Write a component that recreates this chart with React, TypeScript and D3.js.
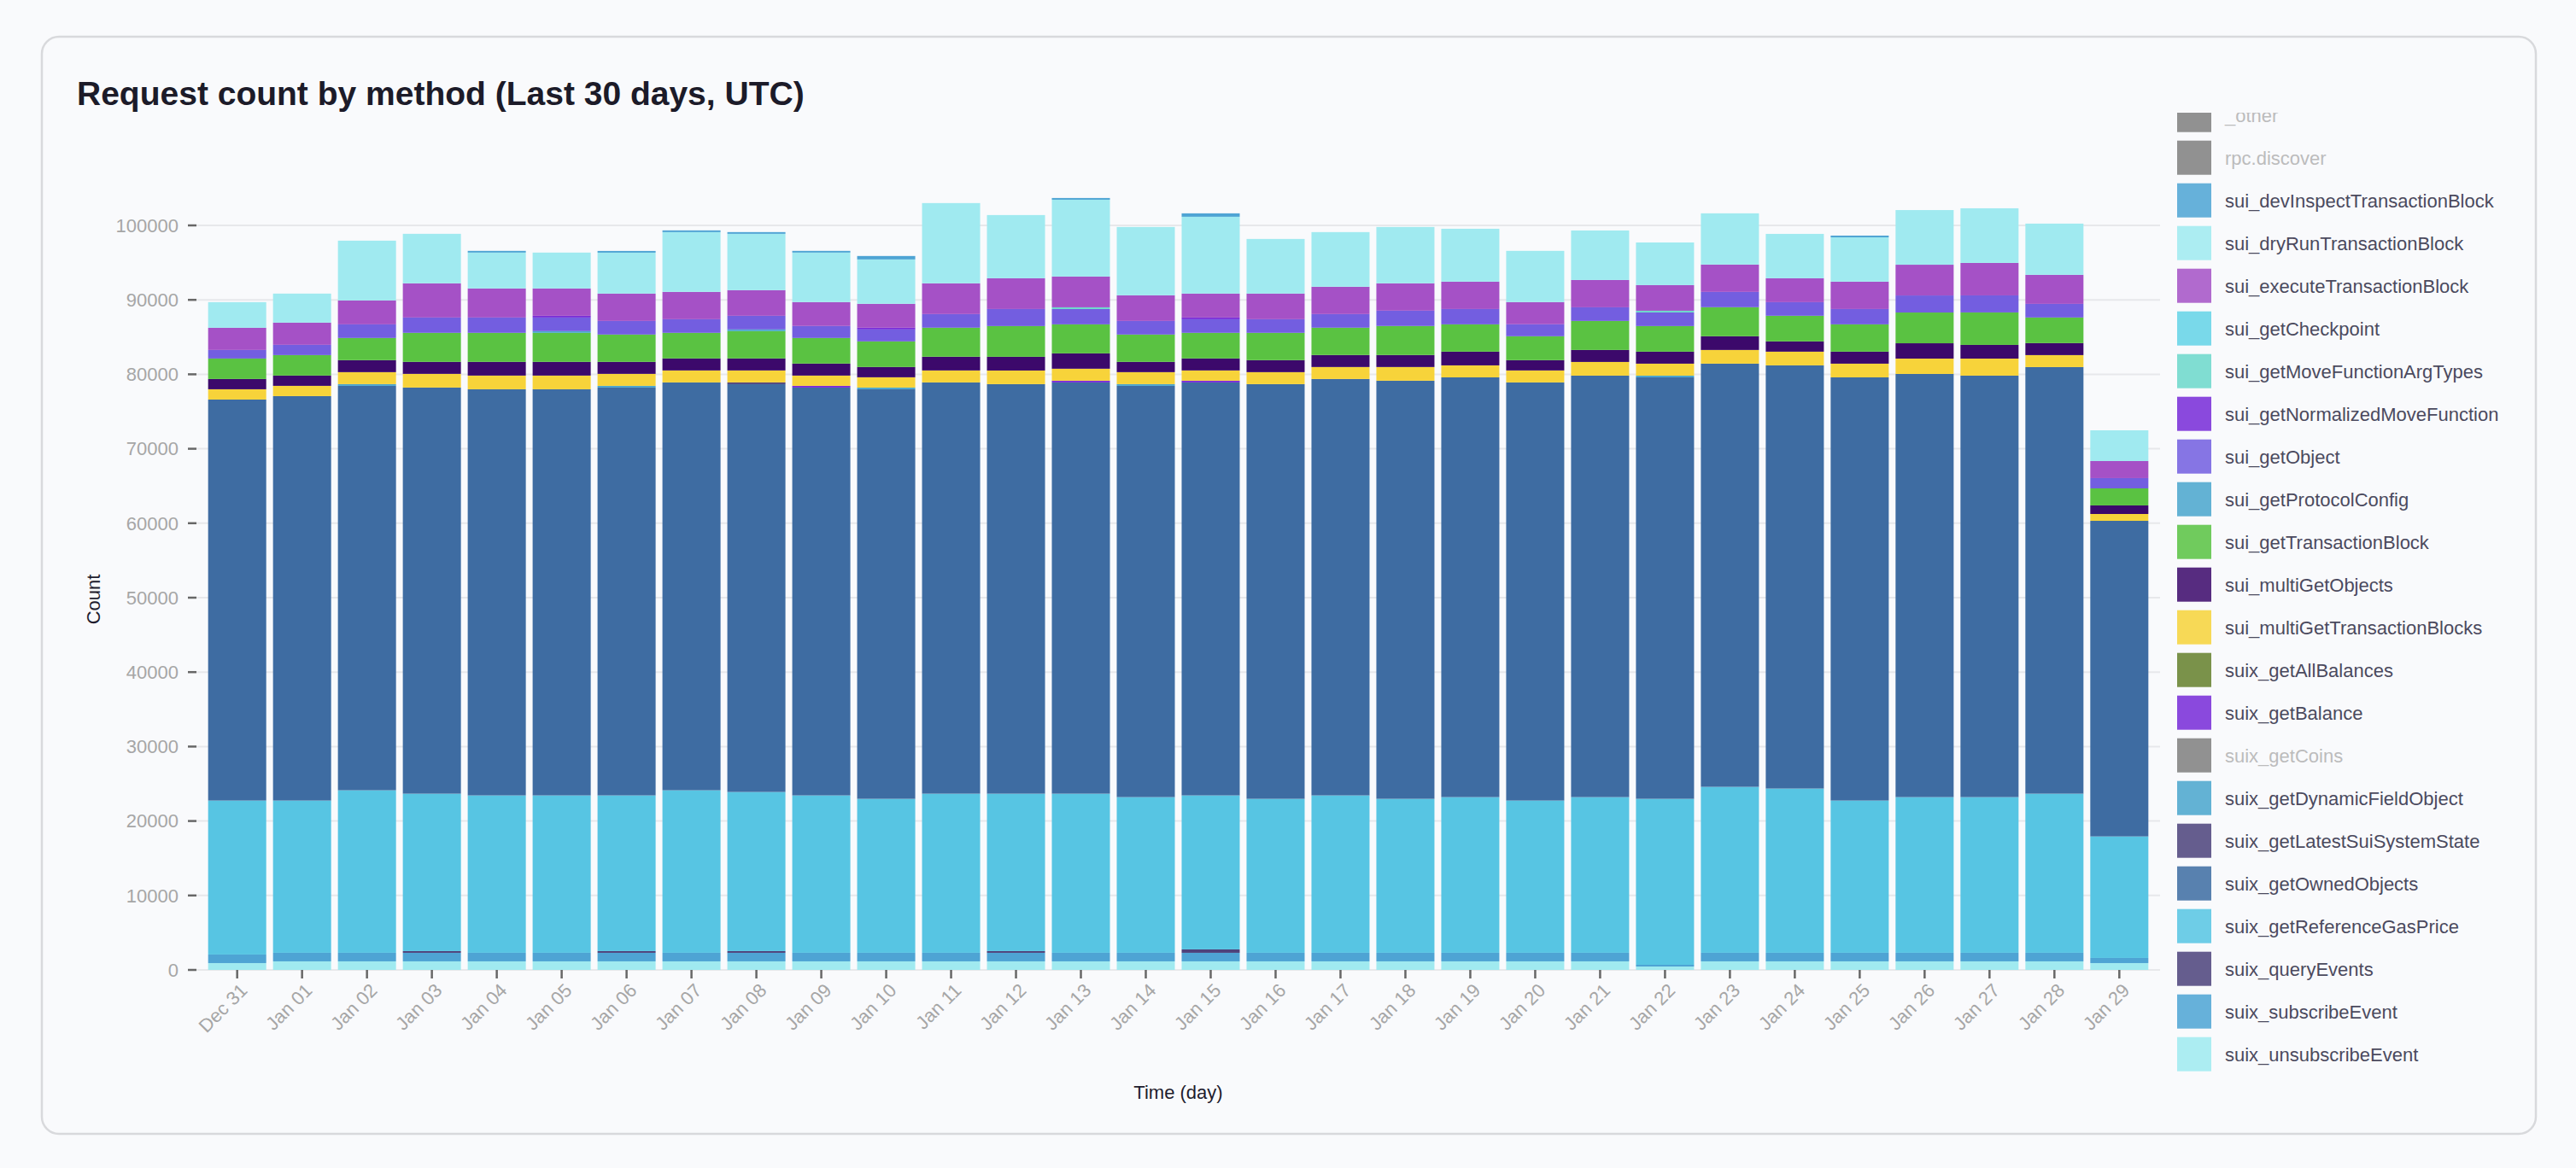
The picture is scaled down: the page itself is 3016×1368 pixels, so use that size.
import React from 'react';
import * as d3 from 'd3';

const days = ['Dec 31','Jan 01','Jan 02','Jan 03','Jan 04','Jan 05','Jan 06','Jan 07','Jan 08','Jan 09','Jan 10','Jan 11','Jan 12','Jan 13','Jan 14','Jan 15','Jan 16','Jan 17','Jan 18','Jan 19','Jan 20','Jan 21','Jan 22','Jan 23','Jan 24','Jan 25','Jan 26','Jan 27','Jan 28','Jan 29'];

const suix_unsubscribeEvent = [920,1150,1150,1150,1150,1150,1150,1150,1150,1150,1150,1150,1150,1150,1150,1150,1150,1150,1150,1150,1150,1150,460,1150,1150,1150,1150,1150,1150,920];
const suix_subscribeEvent = [1150,1150,1150,1150,1150,1150,1150,1150,1150,1150,1150,1150,1150,1150,1150,1150,1150,1150,1150,1150,1150,1150,230,1150,1150,1150,1150,1150,1150,690];
const suix_queryEvents = [0,0,0,230,0,0,230,0,230,0,0,0,230,0,0,460,0,0,0,0,0,0,0,0,0,0,0,0,0,0];
const suix_getReferenceGasPrice = [20680,20450,21830,21140,21140,21140,20910,21830,21370,21140,20680,21370,21140,21370,20910,20680,20680,21140,20680,20910,20450,20910,22290,22290,22060,20450,20910,20910,21370,16320];
const suix_getOwnedObjects = [53860,54320,54320,54550,54550,54550,54780,54780,54780,54780,55010,55240,55010,55240,55240,55470,55700,55930,56160,56380,56160,56610,56610,56840,56840,56840,56840,56610,57300,42390];
const suix_getLatestSuiSystemState = [0,0,0,0,0,0,0,0,230,0,0,0,0,0,0,0,0,0,0,0,0,0,0,0,0,0,0,0,0,0];
const suix_getDynamicFieldObject = [0,0,230,0,0,0,230,0,0,0,230,0,0,0,230,0,0,0,0,0,0,0,230,0,0,0,0,0,0,0];
const suix_getBalance = [0,0,0,0,0,0,0,0,0,230,0,0,0,230,0,230,0,0,0,0,0,0,0,0,0,0,0,0,0,0];
const suix_getAllBalances = [0,0,0,0,0,0,0,0,0,0,0,0,0,0,0,0,0,0,0,0,0,0,0,0,0,0,0,0,0,0];
const sui_multiGetTransactionBlocks = [1380,1380,1610,1840,1840,1840,1610,1610,1610,1380,1380,1610,1830,1610,1610,1380,1610,1610,1840,1610,1610,1840,1610,1840,1840,1840,2060,2290,1610,920];
const sui_multiGetObjects = [1380,1380,1610,1610,1840,1840,1610,1610,1610,1610,1380,1840,1840,2060,1380,1610,1610,1610,1610,1840,1380,1610,1610,1840,1380,1610,2060,1840,1610,1150];
const sui_getTransactionBlock = [2750,2750,2980,3900,3900,3900,3670,3440,3670,3440,3440,3900,4130,3900,3670,3440,3670,3670,3900,3670,3210,3900,3440,3900,3440,3670,4130,4360,3440,2290];
const sui_getProtocolConfig = [0,0,0,0,0,230,0,0,230,0,0,0,0,0,0,0,0,0,0,0,0,0,0,0,0,0,0,0,0,0];
const sui_getObject = [1150,1380,1830,2060,2060,1830,1830,1830,1830,1610,1610,1830,2290,2060,1830,1830,1830,1830,2060,2060,1610,1830,1830,2060,1830,2060,2290,2290,1830,1380];
const sui_getNormalizedMoveFunction = [0,0,0,0,0,230,0,0,0,0,230,0,0,0,0,230,0,0,0,0,0,0,0,0,0,0,0,0,0,0];
const sui_getMoveFunctionArgTypes = [0,0,0,0,0,0,0,0,0,0,0,0,0,230,0,0,0,0,0,0,0,0,230,0,0,0,0,0,0,0];
const sui_getCheckpoint = [0,0,0,0,0,0,0,0,0,0,0,0,0,0,0,0,0,0,0,0,0,0,0,0,0,0,0,0,0,0];
const sui_executeTransactionBlock = [2980,2980,3210,4590,3900,3670,3670,3670,3440,3210,3210,4130,4130,4130,3440,3210,3440,3670,3670,3670,2980,3670,3440,3670,3210,3670,4130,4360,3900,2290];
const sui_dryRunTransactionBlock = [3440,3900,8030,6650,4820,4820,5500,8030,7570,6650,5960,10780,8490,10320,9180,10320,7340,7340,7570,7110,6880,6650,5730,6880,5960,5960,7340,7340,6880,4130];
const sui_devInspectTransactionBlock = [0,0,0,0,230,0,230,230,230,230,460,0,0,230,0,460,0,0,0,0,0,0,0,0,0,230,0,0,0,0];

const yTicks = [0,10000,20000,30000,40000,50000,60000,70000,80000,90000,100000];

const legendNames = ['_other','rpc.discover','sui_devInspectTransactionBlock','sui_dryRunTransactionBlock','sui_executeTransactionBlock','sui_getCheckpoint','sui_getMoveFunctionArgTypes','sui_getNormalizedMoveFunction','sui_getObject','sui_getProtocolConfig','sui_getTransactionBlock','sui_multiGetObjects','sui_multiGetTransactionBlocks','suix_getAllBalances','suix_getBalance','suix_getCoins','suix_getDynamicFieldObject','suix_getLatestSuiSystemState','suix_getOwnedObjects','suix_getReferenceGasPrice','suix_queryEvents','suix_subscribeEvent','suix_unsubscribeEvent'];
const hiddenNames = ['_other','rpc.discover','suix_getCoins'];

const seriesValues: Record<string, number[]> = {
  sui_devInspectTransactionBlock, sui_dryRunTransactionBlock, sui_executeTransactionBlock, sui_getCheckpoint,
  sui_getMoveFunctionArgTypes, sui_getNormalizedMoveFunction, sui_getObject, sui_getProtocolConfig,
  sui_getTransactionBlock, sui_multiGetObjects, sui_multiGetTransactionBlocks, suix_getAllBalances,
  suix_getBalance, suix_getDynamicFieldObject, suix_getLatestSuiSystemState, suix_getOwnedObjects,
  suix_getReferenceGasPrice, suix_queryEvents, suix_subscribeEvent, suix_unsubscribeEvent,
};

const colors: Record<string, string> = {
  sui_devInspectTransactionBlock: '#4ea4d4',
  sui_dryRunTransactionBlock: '#a0eaf0',
  sui_executeTransactionBlock: '#a551c6',
  sui_getCheckpoint: '#64d3e6',
  sui_getMoveFunctionArgTypes: '#6cd7cb',
  sui_getNormalizedMoveFunction: '#782bd7',
  sui_getObject: '#735ee0',
  sui_getProtocolConfig: '#4aa5cd',
  sui_getTransactionBlock: '#5ac242',
  sui_multiGetObjects: '#3c096b',
  sui_multiGetTransactionBlocks: '#f7d33a',
  suix_getAllBalances: '#65802c',
  suix_getBalance: '#782bd7',
  suix_getDynamicFieldObject: '#4aa5cd',
  suix_getLatestSuiSystemState: '#4d427b',
  suix_getOwnedObjects: '#3e6ca2',
  suix_getReferenceGasPrice: '#57c5e3',
  suix_queryEvents: '#4d427b',
  suix_subscribeEvent: '#4ea4d4',
  suix_unsubscribeEvent: '#a0eaf0',
};

const FONT = '"Liberation Sans", Arial, Helvetica, sans-serif';
const BG = '#f9fafc';

export default function App() {
  const W = 3016, H = 1368;
  const plotL = 230, plotR = 2529;
  const x = d3.scaleBand<string>().domain(days).range([plotL, plotR]).paddingInner(0.105).paddingOuter(0.18);
  const y = d3.scaleLinear().domain([0, 100000]).range([1136, 264]);

  const visibleKeys = legendNames.filter(n => !hiddenNames.includes(n)).reverse();
  const table = days.map((d, i) => {
    const row: any = { day: d };
    visibleKeys.forEach(k => { row[k] = seriesValues[k][i]; });
    return row;
  });
  const stacked = d3.stack<any>().keys(visibleKeys)(table);

  const legendX = 2549, legendTextX = 2605, legendRow0 = 134.7, legendStep = 50;

  return (
    <div style={{ position: 'fixed', left: 0, top: 0, width: W, height: H, background: BG }}>
      <svg width={W} height={H} style={{ display: 'block' }} fontFamily={FONT}>
        <rect x={0} y={0} width={W} height={H} fill={BG} />
        <rect x={49} y={43} width={2920} height={1285} rx={20} ry={20} fill={BG} stroke="#d8d9dc" strokeWidth={2.5} />
        <text x={90} y={123} fontSize={39} fontWeight={700} fill="#1c1b29">Request count by method (Last 30 days, UTC)</text>

        {/* grid */}
        {yTicks.map(t => (
          <line key={'g' + t} x1={plotL} x2={plotR} y1={y(t)} y2={y(t)} stroke="#e7e8eb" strokeWidth={2} />
        ))}

        {/* bars */}
        {stacked.map(s => (
          <g key={s.key} fill={colors[s.key]}>
            {s.map((d, i) => {
              const h = y(d[0]) - y(d[1]);
              if (h <= 0) return null;
              return <rect key={i} x={x(days[i])} width={x.bandwidth()} y={y(d[1])} height={h} />;
            })}
          </g>
        ))}

        {/* y axis */}
        {yTicks.map(t => (
          <g key={'y' + t}>
            <line x1={220} x2={230} y1={y(t)} y2={y(t)} stroke="#676767" strokeWidth={2.5} />
            <text x={209} y={y(t)} dy="0.35em" textAnchor="end" fontSize={22} fill="#a6a6a6">{t}</text>
          </g>
        ))}
        <text transform={`translate(117,702) rotate(-90)`} textAnchor="middle" fontSize={22} fill="#1f1d2e">Count</text>

        {/* x axis */}
        {days.map(d => {
          const cx = (x(d) as number) + x.bandwidth() / 2;
          return (
            <g key={'x' + d}>
              <line x1={cx} x2={cx} y1={1136} y2={1146} stroke="#676767" strokeWidth={2.5} />
              <text transform={`translate(${cx + 4},1152) rotate(-45)`} textAnchor="end" dy="0.6em" fontSize={22} fill="#a6a6a6">{d}</text>
            </g>
          );
        })}
        <text x={(plotL + plotR) / 2} y={1287} textAnchor="middle" fontSize={22} fill="#1f1d2e">Time (day)</text>

        {/* legend */}
        <defs>
          <clipPath id="legclip">
            <rect x={2540} y={132} width={420} height={1180} />
          </clipPath>
        </defs>
        <g clipPath="url(#legclip)">
          {legendNames.map((n, i) => {
            const cy = legendRow0 + i * legendStep;
            const hidden = hiddenNames.includes(n);
            return (
              <g key={n}>
                <rect x={legendX} y={cy - 20} width={40} height={40} fill={hidden ? '#919191' : colors[n]} fillOpacity={hidden ? 1 : 0.86} />
                <text x={legendTextX} y={cy + 8} fontSize={22} fill={hidden ? '#bcbcbc' : '#4b4a5e'}>{n}</text>
              </g>
            );
          })}
        </g>
      </svg>
    </div>
  );
}
